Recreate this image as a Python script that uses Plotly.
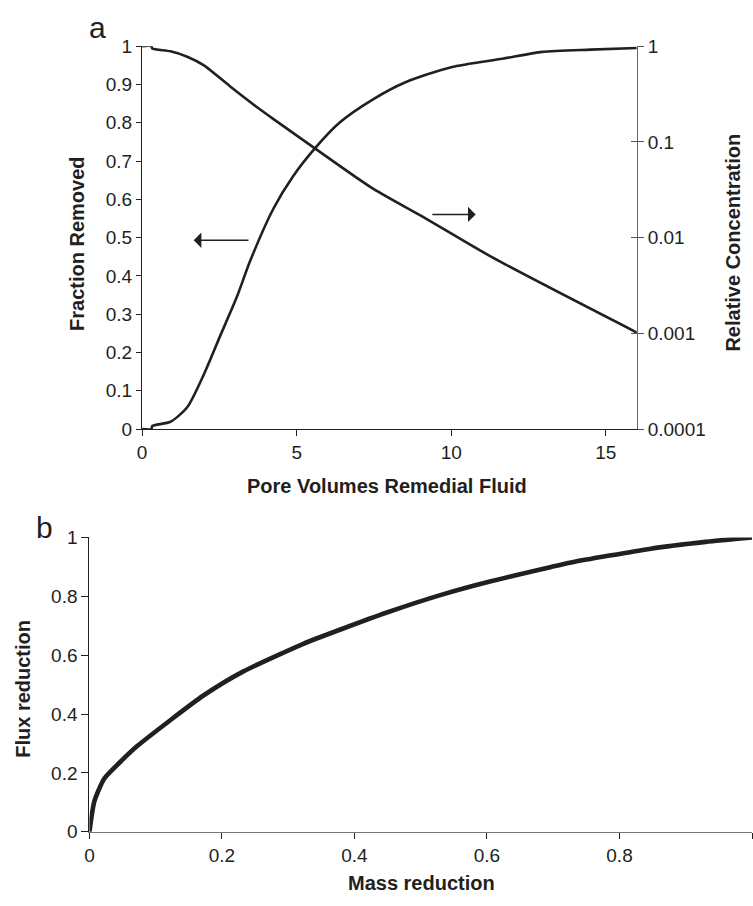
import plotly.graph_objects as go

# ---------- Panel a data ----------
pv_removed = [0, 0.3, 0.33, 0.92, 1.46, 2.0, 2.53, 3.07, 3.5, 4.25, 4.89, 5.59, 6.4, 7.47,
              8.5, 10.0, 11.65, 12.94, 14.5, 16.0]
fraction_removed = [0, 0, 0.008, 0.019, 0.057, 0.143, 0.244, 0.346, 0.44, 0.576, 0.661, 0.733,
                    0.801, 0.861, 0.905, 0.945, 0.967, 0.985, 0.991, 0.995]

pv_conc = [0, 0.3, 0.33, 0.92, 1.46, 2.0, 2.85, 3.6, 4.25, 5.59, 7.47, 9.18, 11.33, 16.0]
rel_conc = [1.0, 1.0, 0.946, 0.883, 0.776, 0.63, 0.379, 0.246, 0.173, 0.0855, 0.0324, 0.0158,
            0.00621, 0.00102]

x_ticks_a = [0, 5, 10, 15]
y_ticks_a = [0, 0.1, 0.2, 0.3, 0.4, 0.5, 0.6, 0.7, 0.8, 0.9, 1]
y_ticktext_a = ["0", "0.1", "0.2", "0.3", "0.4", "0.5", "0.6", "0.7", "0.8", "0.9", "1"]
y2_ticks_a = [0.0001, 0.001, 0.01, 0.1, 1]
y2_ticktext_a = ["0.0001", "0.001", "0.01", "0.1", "1"]

# ---------- Panel b data ----------
mass_reduction = [0, 0.0075, 0.0225, 0.05, 0.0725, 0.1225, 0.172, 0.2324, 0.322, 0.382, 0.45,
                  0.532, 0.6, 0.697, 0.727, 0.847, 0.93, 1.0]
flux_reduction = [0, 0.104, 0.181, 0.245, 0.292, 0.38, 0.463, 0.545, 0.638, 0.69, 0.746,
                  0.806, 0.848, 0.900, 0.915, 0.962, 0.985, 1.0]

x_ticks_b = [0, 0.2, 0.4, 0.6, 0.8, 1]
x_ticktext_b = ["0", "0.2", "0.4", "0.6", "0.8", "1"]
y_ticks_b = [0, 0.2, 0.4, 0.6, 0.8, 1]
y_ticktext_b = ["0", "0.2", "0.4", "0.6", "0.8", "1"]

W, H = 753, 906
INK = "#231f20"
FONT = "Liberation Sans, Arial, sans-serif"
TICKFONT = dict(family=FONT, size=19, color=INK)
TITLEFONT = dict(family=FONT, size=20, color=INK)


def px_x(p):
    return p / W


def px_y(p):
    return 1 - p / H


fig = go.Figure()

fig.add_trace(go.Scatter(x=pv_removed, y=fraction_removed, mode="lines",
                         line=dict(color=INK, width=2.6, shape="spline", smoothing=0.7),
                         xaxis="x", yaxis="y", showlegend=False))
fig.add_trace(go.Scatter(x=pv_conc, y=rel_conc, mode="lines",
                         line=dict(color=INK, width=2.6, shape="spline", smoothing=0.7),
                         xaxis="x", yaxis="y2", showlegend=False))
# invisible copy to carry the inward right-axis ticks
fig.add_trace(go.Scatter(x=pv_conc, y=rel_conc, mode="lines",
                         line=dict(color="rgba(0,0,0,0)", width=0), xaxis="x", yaxis="y3",
                         showlegend=False, hoverinfo="skip"))
fig.add_trace(go.Scatter(x=mass_reduction, y=flux_reduction, mode="lines",
                         line=dict(color=INK, width=4.6, shape="spline", smoothing=0.6),
                         xaxis="x2", yaxis="y4", showlegend=False))

top_dom = [px_y(429), px_y(37)]
bot_dom = [px_y(841.3), px_y(540)]

fig.update_layout(
    width=W, height=H,
    margin=dict(l=0, r=0, t=0, b=0),
    paper_bgcolor="white", plot_bgcolor="white",
    xaxis=dict(domain=[px_x(138), px_x(636)], range=[0, 16], anchor="y",
               tickvals=x_ticks_a, ticktext=[str(v) for v in x_ticks_a],
               ticks="outside", ticklen=6, tickcolor=INK, tickfont=TICKFONT,
               showline=True, linecolor=INK, linewidth=1.2,
               showgrid=False, zeroline=False),
    yaxis=dict(domain=top_dom, range=[0, 1], anchor="x",
               tickvals=y_ticks_a, ticktext=y_ticktext_a,
               ticks="outside", ticklen=5, tickcolor=INK, tickfont=TICKFONT,
               showline=True, linecolor=INK, linewidth=1.2,
               showgrid=False, zeroline=False),
    yaxis2=dict(overlaying="y", side="right", anchor="x", type="log", range=[-4, 0],
                tickvals=y2_ticks_a, ticktext=y2_ticktext_a,
                ticks="outside", ticklen=6, tickcolor="#555", tickfont=TICKFONT,
                showline=True, linecolor="#666", linewidth=1.2,
                showgrid=False, zeroline=False),
    yaxis3=dict(overlaying="y", side="right", anchor="x", type="log", range=[-4, 0],
                tickvals=y2_ticks_a, showticklabels=False,
                ticks="inside", ticklen=6, tickcolor="#555",
                showline=False, showgrid=False, zeroline=False),
    xaxis2=dict(domain=[px_x(85), px_x(752)], range=[0, 1], anchor="y4",
                tickvals=x_ticks_b, ticktext=x_ticktext_b,
                ticks="outside", ticklen=6, tickcolor=INK, tickfont=TICKFONT,
                showline=True, linecolor="#777", linewidth=1.4,
                showgrid=False, zeroline=False),
    yaxis4=dict(domain=bot_dom, range=[0, 1], anchor="x2",
                tickvals=y_ticks_b, ticktext=y_ticktext_b,
                ticks="outside", ticklen=7, tickcolor=INK, tickfont=TICKFONT,
                showline=True, linecolor=INK, linewidth=1.2,
                showgrid=False, zeroline=False),
)

ann = []
# axis titles
ann.append(dict(text="<b>Pore Volumes Remedial Fluid</b>", x=px_x(385), y=px_y(487),
                xref="paper", yref="paper", showarrow=False, font=TITLEFONT,
                xanchor="center", yanchor="middle"))
ann.append(dict(text="<b>Fraction Removed</b>", x=px_x(73), y=px_y(240),
                xref="paper", yref="paper", showarrow=False, font=TITLEFONT,
                textangle=-90, xanchor="center", yanchor="middle"))
ann.append(dict(text="<b>Relative Concentration</b>", x=px_x(733), y=px_y(238),
                xref="paper", yref="paper", showarrow=False, font=TITLEFONT,
                textangle=-90, xanchor="center", yanchor="middle"))
ann.append(dict(text="<b>Mass reduction</b>", x=px_x(419), y=px_y(894),
                xref="paper", yref="paper", showarrow=False, font=TITLEFONT,
                xanchor="center", yanchor="middle"))
ann.append(dict(text="<b>Flux reduction</b>", x=px_x(18), y=px_y(695),
                xref="paper", yref="paper", showarrow=False, font=TITLEFONT,
                textangle=-90, xanchor="center", yanchor="middle"))
# panel letters
ann.append(dict(text="a", x=px_x(93), y=px_y(18), xref="paper", yref="paper",
                showarrow=False, font=dict(family=FONT, size=30, color=INK),
                xanchor="center", yanchor="middle"))
ann.append(dict(text="b", x=px_x(40), y=px_y(530), xref="paper", yref="paper",
                showarrow=False, font=dict(family=FONT, size=30, color=INK),
                xanchor="center", yanchor="middle"))
# arrows pointing to the respective axes
ann.append(dict(x=1.67, y=0.493, ax=3.49, ay=0.493, xref="x", yref="y", axref="x", ayref="y",
                text="", showarrow=True, arrowhead=1, arrowsize=1.6, arrowwidth=1.6,
                arrowcolor=INK))
ann.append(dict(x=10.79, y=0.5605, ax=9.34, ay=0.5605, xref="x", yref="y", axref="x", ayref="y",
                text="", showarrow=True, arrowhead=1, arrowsize=1.6, arrowwidth=1.6,
                arrowcolor=INK))
fig.update_layout(annotations=ann)

fig.write_html("out.html", config={"displayModeBar": False},
               post_script="document.body.style.margin='0';document.body.style.overflow='hidden';")
